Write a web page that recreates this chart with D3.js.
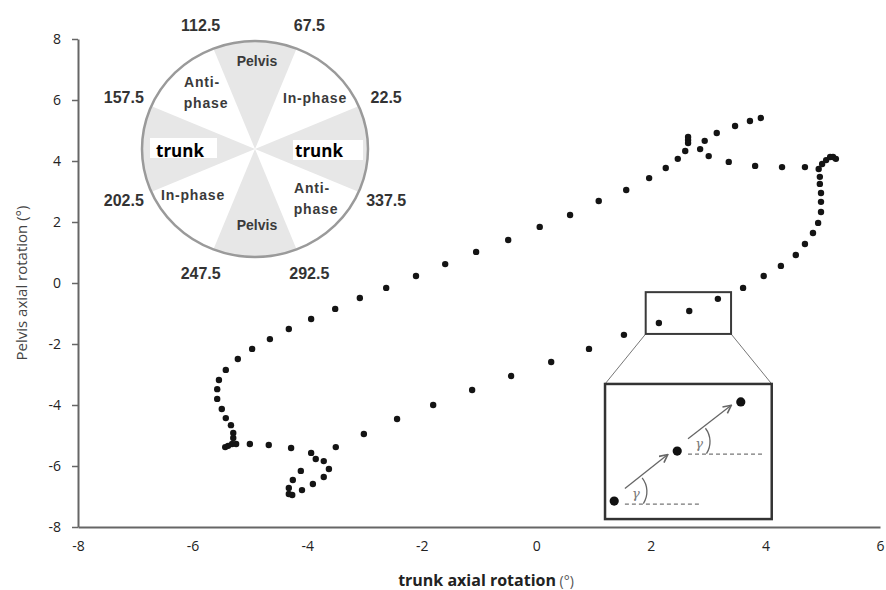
<!DOCTYPE html>
<html>
<head>
<meta charset="utf-8">
<script src="https://cdn.jsdelivr.net/npm/d3@7"></script>
<style>
body { margin: 0; background: #fff; }
</style>
</head>
<body>
<script>
// trunk (x) vs pelvis (y) axial rotation, one sample per dot (deg)
var trunkRot = [3.92, 3.73, 3.47, 3.15, 2.94, 2.65, 2.65, 2.65, 2.60, 2.47, 2.26, 1.97, 1.57, 1.09, 0.59, 0.06,
  -0.49, -1.05, -1.59, -2.10, -2.62, -3.08, -3.51, -3.93, -4.32, -4.65, -4.96, -5.21, -5.42, -5.54, -5.57, -5.57,
  -5.49, -5.42, -5.33, -5.29, -5.29, -5.24, -5.31, -5.38, -5.43, -5.00, -4.67, -4.28, -3.93, -3.85, -3.71, -3.62,
  -3.71, -3.90, -4.09, -4.26, -4.32, -4.32, -4.25, -4.11, -3.50, -3.01, -2.43, -1.80, -1.12, -0.44, 0.26, 0.92,
  1.53, 2.14, 2.67, 3.17, 3.61, 3.97, 4.27, 4.53, 4.69, 4.83, 4.92, 4.97, 4.97, 4.97, 4.95, 4.95, 4.93, 4.99,
  5.06, 5.13, 5.18, 5.23, 4.69, 4.29, 3.82, 3.36, 3.01, 2.86];
var pelvisRot = [5.41, 5.31, 5.15, 4.92, 4.66, 4.79, 4.69, 4.59, 4.33, 4.07, 3.77, 3.44, 3.05, 2.69, 2.23, 1.84,
  1.41, 1.02, 0.62, 0.23, -0.16, -0.49, -0.85, -1.18, -1.51, -1.84, -2.16, -2.49, -2.85, -3.18, -3.48, -3.80,
  -4.13, -4.43, -4.66, -4.92, -5.08, -5.28, -5.28, -5.34, -5.38, -5.28, -5.31, -5.41, -5.57, -5.77, -5.84, -6.10,
  -6.36, -6.59, -6.79, -6.95, -6.92, -6.72, -6.46, -6.16, -5.38, -4.95, -4.46, -4.00, -3.51, -3.05, -2.59, -2.16,
  -1.70, -1.31, -0.92, -0.52, -0.16, 0.23, 0.56, 0.92, 1.28, 1.64, 1.97, 2.33, 2.66, 2.95, 3.25, 3.48, 3.74, 3.90,
  4.03, 4.13, 4.13, 4.07, 3.80, 3.80, 3.84, 3.97, 4.16, 4.39];

var xTicks = [-8, -6, -4, -2, 0, 2, 4, 6];
var yTicks = [-8, -6, -4, -2, 0, 2, 4, 6, 8];

// coupling angle wheel: bin edges (deg, ccw from +x) and shaded bins
var binEdges = [112.5, 67.5, 157.5, 22.5, 202.5, 337.5, 247.5, 292.5];
var shadedBins = [[67.5, 112.5], [157.5, 202.5], [247.5, 292.5], [337.5, 382.5]];

// zoom window (data units) and its magnified copy
var zoomWinX = [1.91, 3.40], zoomWinY = [-0.30, -1.67];
var magBoxX = [1.20, 4.11], magBoxY = [-3.31, -7.74];
var magPtsX = [1.36, 2.46, 3.57], magPtsY = [-7.15, -5.51, -3.90];

var W = 886, H = 590;
var svg = d3.select("body").append("svg")
    .attr("width", W)
    .attr("height", H)
    .style("font-family", "'Open Sans', sans-serif");

var x = d3.scaleLinear().domain([-8, 6]).range([78, 880]);
var y = d3.scaleLinear().domain([-8, 8]).range([527, 39]);

// axes (plain hyphen minus like the original)
var fmt = function (d) { return String(d); };
var yAxis = svg.append("g")
    .attr("transform", "translate(" + x(-8) + ",0)")
    .call(d3.axisLeft(y).tickValues(yTicks).tickFormat(fmt).tickSize(6).tickSizeOuter(0).tickPadding(11));
var xAxis = svg.append("g")
    .attr("transform", "translate(0," + y(-8) + ")")
    .call(d3.axisBottom(x).tickValues(xTicks).tickFormat(fmt).tickSize(0).tickSizeOuter(0).tickPadding(14));

[xAxis, yAxis].forEach(function (g) {
    g.select(".domain").attr("stroke", "#666").attr("stroke-width", 2);
    g.selectAll(".tick line").attr("stroke", "#666").attr("stroke-width", 1.5);
    g.selectAll(".tick text")
        .attr("fill", "#222")
        .style("font-size", "14px")
        .style("font-family", "'Open Sans', sans-serif");
});

svg.append("text")
    .attr("x", 486)
    .attr("y", 586)
    .attr("text-anchor", "middle")
    .attr("fill", "#222")
    .style("font-size", "16px")
    .call(function (t) {
        t.append("tspan").attr("font-weight", "bold").text("trunk axial rotation");
        t.append("tspan").attr("fill", "#555").style("font-size", "14px").text(" (°)");
    });

svg.append("text")
    .attr("transform", "translate(27,283) rotate(-90)")
    .attr("text-anchor", "middle")
    .attr("fill", "#444")
    .style("font-size", "15px")
    .text("Pelvis axial rotation (°)");

// data points
svg.append("g").selectAll("circle")
    .data(trunkRot)
    .enter().append("circle")
    .attr("cx", function (d) { return x(d); })
    .attr("cy", function (d, i) { return y(pelvisRot[i]); })
    .attr("r", 3.2)
    .attr("fill", "#141414");

// zoom window + magnified box
var zx0 = x(zoomWinX[0]), zx1 = x(zoomWinX[1]), zy0 = y(zoomWinY[0]), zy1 = y(zoomWinY[1]);
var mx0 = x(magBoxX[0]), mx1 = x(magBoxX[1]), my0 = y(magBoxY[0]), my1 = y(magBoxY[1]);
var zoomG = svg.append("g");
zoomG.append("line").attr("x1", zx0).attr("y1", zy1).attr("x2", mx0).attr("y2", my0)
    .attr("stroke", "#777").attr("stroke-width", 1);
zoomG.append("line").attr("x1", zx1).attr("y1", zy1).attr("x2", mx1).attr("y2", my0)
    .attr("stroke", "#777").attr("stroke-width", 1);
zoomG.append("rect").attr("x", zx0).attr("y", zy0).attr("width", zx1 - zx0).attr("height", zy1 - zy0)
    .attr("fill", "none").attr("stroke", "#3a3a3a").attr("stroke-width", 2);
zoomG.append("rect").attr("x", mx0).attr("y", my0).attr("width", mx1 - mx0).attr("height", my1 - my0)
    .attr("fill", "#fff").attr("stroke", "#333").attr("stroke-width", 2.5);

svg.append("defs").append("marker")
    .attr("id", "arr")
    .attr("viewBox", "0 0 10 10")
    .attr("refX", 9).attr("refY", 5)
    .attr("markerWidth", 10).attr("markerHeight", 10)
    .attr("markerUnits", "userSpaceOnUse")
    .attr("orient", "auto")
    .append("path")
    .attr("d", "M1,1 L9,5 L1,9")
    .attr("fill", "none")
    .attr("stroke", "#666")
    .attr("stroke-width", 1.6);

var mp = magPtsX.map(function (d, i) { return [x(d), y(magPtsY[i])]; });
for (var i = 0; i < mp.length - 1; i++) {
    var p = mp[i], q = mp[i + 1];
    var dx = q[0] - p[0], dy = q[1] - p[1];
    var ax = p[0] + 0.17 * dx, ay = p[1] + 0.17 * dy - 4;
    var bx = p[0] + 0.85 * dx, by = p[1] + 0.85 * dy - 4;
    var ang = Math.atan2(-dy, dx), r = 22, base = p[1] + 3;
    var a0 = -33 * Math.PI / 180;
    zoomG.append("line")
        .attr("x1", ax).attr("y1", ay).attr("x2", bx).attr("y2", by)
        .attr("stroke", "#666").attr("stroke-width", 1.3)
        .attr("marker-end", "url(#arr)");
    zoomG.append("line")
        .attr("x1", ax).attr("y1", base).attr("x2", ax + 77).attr("y2", base)
        .attr("stroke", "#777").attr("stroke-width", 1.3)
        .attr("stroke-dasharray", "4,3");
    // angle arc, centred at the arrow tail
    var acx = ax, acy = ay + 3;
    zoomG.append("path")
        .attr("d", "M" + (acx + r * Math.cos(a0)) + "," + (acy - r * Math.sin(a0)) +
            " A" + r + "," + r + " 0 0 0 " +
            (acx + r * Math.cos(ang)) + "," + (acy - r * Math.sin(ang)))
        .attr("fill", "none").attr("stroke", "#666").attr("stroke-width", 1.3);
    zoomG.append("text")
        .attr("x", acx + 11).attr("y", acy + 6)
        .attr("text-anchor", "middle")
        .attr("fill", "#777")
        .style("font-family", "'DejaVu Serif', serif")
        .style("font-style", "italic")
        .style("font-size", "13px")
        .text("γ");
}
zoomG.selectAll(".mag")
    .data(mp)
    .enter().append("circle")
    .attr("cx", function (d) { return d[0]; })
    .attr("cy", function (d) { return d[1]; })
    .attr("r", 4.6)
    .attr("fill", "#111");

// coupling angle wheel
var cx = 255, cy = 149, rx = 113, ry = 108;
var wheel = svg.append("g");
wheel.append("clipPath").attr("id", "wclip")
    .append("ellipse").attr("cx", cx).attr("cy", cy).attr("rx", rx).attr("ry", ry);
wheel.append("ellipse").attr("cx", cx).attr("cy", cy).attr("rx", rx).attr("ry", ry).attr("fill", "#fff");

var arc = d3.arc().innerRadius(0).outerRadius(200);
var rad = Math.PI / 180;
wheel.append("g")
    .attr("clip-path", "url(#wclip)")
    .append("g")
    .attr("transform", "translate(" + cx + "," + cy + ")")
    .selectAll("path")
    .data(shadedBins)
    .enter().append("path")
    .attr("d", function (d) {
        // d3.arc angles run clockwise from 12 o'clock
        return arc({ startAngle: (90 - d[1]) * rad, endAngle: (90 - d[0]) * rad });
    })
    .attr("fill", "#e7e7e7");

// white tags behind the "trunk" labels
wheel.append("g").attr("clip-path", "url(#wclip)").selectAll("rect")
    .data([[-105, -11, 67], [38, -9, 70]])
    .enter().append("rect")
    .attr("x", function (d) { return cx + d[0]; })
    .attr("y", function (d) { return cy + d[1]; })
    .attr("width", function (d) { return d[2]; })
    .attr("height", 20)
    .attr("fill", "#fff");

wheel.append("ellipse").attr("cx", cx).attr("cy", cy).attr("rx", rx).attr("ry", ry)
    .attr("fill", "none").attr("stroke", "#9a9a9a").attr("stroke-width", 2.5);

wheel.selectAll(".edge")
    .data(binEdges)
    .enter().append("text")
    .attr("x", function (d) { return cx + (rx + 29) * Math.cos(d * rad); })
    .attr("y", function (d) { return cy - (ry + 26) * Math.sin(d * rad); })
    .attr("dy", "0.36em")
    .attr("text-anchor", "middle")
    .attr("fill", "#333")
    .style("font-family", "'Liberation Sans', Arial, sans-serif")
    .style("font-weight", "bold")
    .style("font-size", "16px")
    .text(function (d) { return d; });

var inner = [
    { t: ["Pelvis"], dx: 2, dy: -88 },
    { t: ["Pelvis"], dx: 2, dy: 76 },
    { t: ["Anti-", "phase"], dx: -53, dy: -67 },
    { t: ["Anti-", "phase"], dx: 57, dy: 39 },
    { t: ["In-phase"], dx: 60, dy: -51 },
    { t: ["In-phase"], dx: -62, dy: 46 }
];
inner.forEach(function (lab) {
    var t = wheel.append("text")
        .attr("text-anchor", "middle")
        .attr("fill", "#3a3a3a")
        .style("font-family", "'Liberation Sans', Arial, sans-serif")
        .style("font-weight", "bold")
        .style("font-size", "14px")
        .style("letter-spacing", lab.t[0] == "Pelvis" ? "0px" : "0.8px");
    lab.t.forEach(function (s, k) {
        t.append("tspan")
            .attr("x", cx + lab.dx + (k ? 4 : 0))
            .attr("y", cy + lab.dy + k * 21)
            .attr("dy", "0.36em")
            .text(s);
    });
});

wheel.selectAll(".trunk")
    .data([-75, 64])
    .enter().append("text")
    .attr("x", function (d) { return cx + d; })
    .attr("y", function (d) { return cy + 2; })
    .attr("dy", "0.36em")
    .attr("text-anchor", "middle")
    .attr("fill", "#000")
    .style("font-weight", "bold")
    .style("font-size", "17px")
    .text("trunk");
</script>
</body>
</html>
